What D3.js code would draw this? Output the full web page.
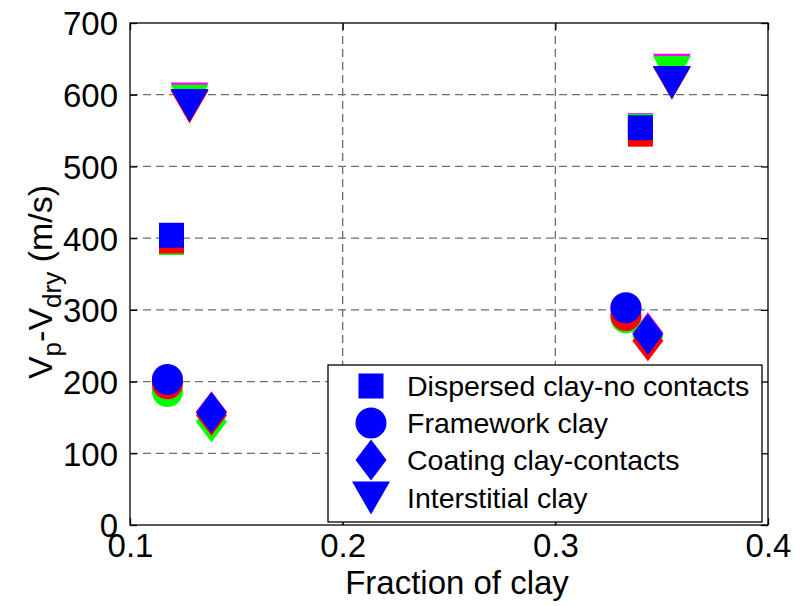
<!DOCTYPE html>
<html>
<head>
<meta charset="utf-8">
<script src="https://cdn.jsdelivr.net/npm/d3@7"></script>
<style>
  body { margin: 0; background: #fff; }
  svg text { font-family: "Liberation Sans", Arial, sans-serif; fill: #000; }
</style>
</head>
<body>
<svg id="chart" width="794" height="606"></svg>
<script>
// clay fraction of each marker group (two clusters)
var squareX = [0.1195, 0.340];
var circleX = [0.1176, 0.3332];
var diamondX = [0.1383, 0.3435];
var triangleX = [0.128, 0.3548];

// Vp - Vdry (m/s), one array per colour series and marker
var magentaSquare = [403, 557], magentaCircle = [202, 302], magentaDiamond = [158, 268], magentaTriangle = [594, 634];
var greenSquare = [394, 556], greenCircle = [186, 289], greenDiamond = [144, 262], greenTriangle = [591, 631];
var redSquare = [396, 545], redCircle = [197, 292], redDiamond = [153, 257], redTriangle = [583, 616];
var blueSquare = [404, 554], blueCircle = [203, 303], blueDiamond = [157, 266], blueTriangle = [585, 617];

var xTicks = [0.1, 0.2, 0.3, 0.4];
var yTicks = [0, 100, 200, 300, 400, 500, 600, 700];
var legendLabels = ['Dispersed clay-no contacts', 'Framework clay', 'Coating clay-contacts', 'Interstitial clay'];

(function() {
    var options = {
        left: 130, right: 768, top: 23, bottom: 525,
        tickLength: 7
    };

    var svg = d3.select('#chart');

    var x = d3.scaleLinear().domain([0.1, 0.4]).range([options.left, options.right]);
    var y = d3.scaleLinear().domain([0, 700]).range([options.bottom, options.top]);

    var shapes = {
        square: function(cx, cy) {
            var h = 12.5;
            return 'M' + (cx - h) + ',' + (cy - h) + 'H' + (cx + h) + 'V' + (cy + h) + 'H' + (cx - h) + 'Z';
        },
        circle: function(cx, cy) {
            var r = 15.5;
            return 'M' + (cx - r) + ',' + cy + 'A' + r + ',' + r + ' 0 1,0 ' + (cx + r) + ',' + cy +
                'A' + r + ',' + r + ' 0 1,0 ' + (cx - r) + ',' + cy + 'Z';
        },
        diamond: function(cx, cy) {
            var w = 15.5, h = 20.5;
            return 'M' + cx + ',' + (cy - h) + 'L' + (cx + w) + ',' + cy + 'L' + cx + ',' + (cy + h) + 'L' + (cx - w) + ',' + cy + 'Z';
        },
        triangle: function(cx, cy) {
            var w = 19, h = 16.5;
            return 'M' + (cx - w) + ',' + (cy - h) + 'L' + (cx + w) + ',' + (cy - h) + 'L' + cx + ',' + (cy + h) + 'Z';
        }
    };

    // grid
    var grid = svg.append('g').attr('stroke', '#6e6e6e').attr('stroke-width', 1.3).attr('stroke-dasharray', '8,5');
    xTicks.slice(1, -1).forEach(function(t) {
        grid.append('line').attr('x1', x(t)).attr('x2', x(t)).attr('y1', options.bottom).attr('y2', options.top);
    });
    yTicks.slice(1, -1).forEach(function(t) {
        grid.append('line').attr('x1', options.left).attr('x2', options.right).attr('y1', y(t)).attr('y2', y(t));
    });

    // markers, drawn back to front
    var series = [
        { color: '#ff00ff', data: [magentaSquare, magentaCircle, magentaDiamond, magentaTriangle] },
        { color: '#00ff00', data: [greenSquare, greenCircle, greenDiamond, greenTriangle] },
        { color: '#ff0000', data: [redSquare, redCircle, redDiamond, redTriangle] },
        { color: '#0000ff', data: [blueSquare, blueCircle, blueDiamond, blueTriangle] }
    ];
    var shapeOrder = ['square', 'circle', 'diamond', 'triangle'];
    var xs = [squareX, circleX, diamondX, triangleX];

    var marks = svg.append('g');
    series.forEach(function(s) {
        s.data.forEach(function(values, i) {
            values.forEach(function(v, j) {
                marks.append('path')
                    .attr('d', shapes[shapeOrder[i]](x(xs[i][j]), y(v)))
                    .attr('fill', s.color);
            });
        });
    });

    // axes box with ticks on all sides
    var xAxisBottom = d3.axisBottom(x).tickValues(xTicks).tickSize(-options.tickLength).tickPadding(8).tickFormat(d3.format('.1f'));
    var xAxisTop = d3.axisTop(x).tickValues(xTicks).tickSize(-options.tickLength).tickFormat('');
    var yAxisLeft = d3.axisLeft(y).tickValues(yTicks).tickSize(-options.tickLength).tickPadding(12);
    var yAxisRight = d3.axisRight(y).tickValues(yTicks).tickSize(-options.tickLength).tickFormat('');

    var styleAxis = function(g) {
        g.selectAll('.tick line').attr('stroke', '#000').attr('stroke-width', 1.3);
        g.selectAll('.tick text').attr('font-size', 33).attr('font-family', '"Liberation Sans", Arial, sans-serif').attr('fill', '#000');
    };

    svg.append('g').attr('transform', 'translate(0,' + options.bottom + ')').call(xAxisBottom).call(styleAxis)
        .selectAll('.tick text').attr('dy', '0.72em');
    svg.append('g').attr('transform', 'translate(0,' + options.top + ')').call(xAxisTop).call(styleAxis);
    svg.append('g').attr('transform', 'translate(' + options.left + ',0)').call(yAxisLeft).call(styleAxis)
        .selectAll('.tick text').attr('dy', '0.36em');
    svg.append('g').attr('transform', 'translate(' + options.right + ',0)').call(yAxisRight).call(styleAxis);
    svg.selectAll('path.domain').remove();
    svg.append('rect')
        .attr('x', options.left).attr('y', options.top)
        .attr('width', options.right - options.left).attr('height', options.bottom - options.top)
        .attr('fill', 'none').attr('stroke', '#000').attr('stroke-width', 1.3);

    // axis labels
    svg.append('text')
        .attr('x', (options.left + options.right) / 2 + 8)
        .attr('y', 594)
        .attr('text-anchor', 'middle')
        .attr('font-size', 33)
        .text('Fraction of clay');

    var yLabel = svg.append('text')
        .attr('transform', 'translate(52,' + ((options.top + options.bottom) / 2 + 8) + ') rotate(-90)')
        .attr('text-anchor', 'middle')
        .attr('font-size', 34);
    yLabel.append('tspan').text('V');
    yLabel.append('tspan').attr('font-size', 26).attr('dy', 9).text('p');
    yLabel.append('tspan').attr('dy', -9).text('-V');
    yLabel.append('tspan').attr('font-size', 26).attr('dy', 9).text('dry');
    yLabel.append('tspan').attr('dy', -9).text(' (m/s)');

    // legend
    var legend = svg.append('g');
    legend.append('rect')
        .attr('x', 328).attr('y', 365).attr('width', 434).attr('height', 157)
        .attr('fill', '#fff').attr('stroke', '#000').attr('stroke-width', 1.3);
    var rowY = [386, 423, 460, 498];
    legendLabels.forEach(function(label, i) {
        legend.append('path')
            .attr('d', shapes[shapeOrder[i]](371, rowY[i]))
            .attr('fill', '#0000ff');
        legend.append('text')
            .attr('x', 407)
            .attr('y', rowY[i])
            .attr('dy', '0.36em')
            .attr('font-size', 28.5)
            .text(label);
    });
})();
</script>
</body>
</html>
